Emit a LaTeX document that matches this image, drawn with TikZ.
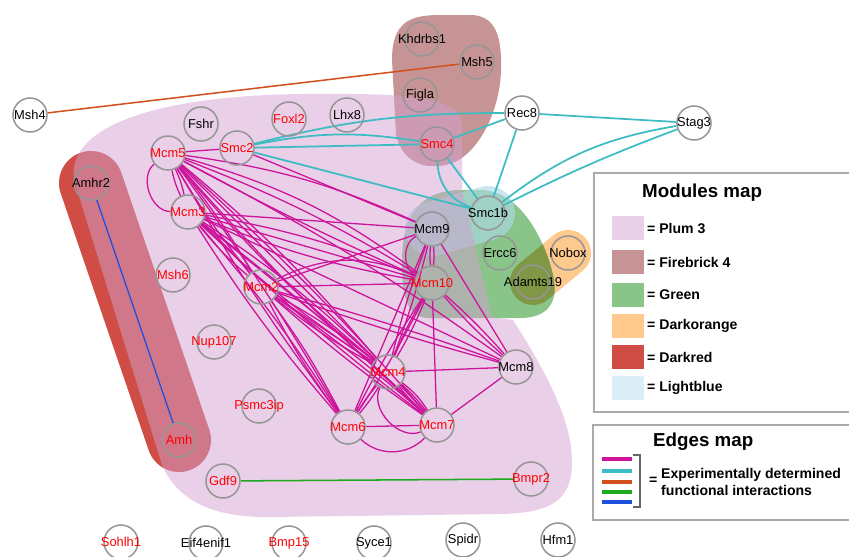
\documentclass[tikz,border=0pt]{standalone}
\usepackage{fontspec}
\setmainfont{Liberation Sans}
\pgfdeclarelayer{hull}
\pgfdeclarelayer{edges}
\pgfsetlayers{hull,edges,main}
\definecolor{plumc}{RGB}{211,161,209}
\definecolor{fbc}{RGB}{198,148,148}
\definecolor{grc}{RGB}{137,197,137}
\definecolor{orc}{RGB}{253,201,141}
\definecolor{olc}{RGB}{128,152,70}
\definecolor{drc}{RGB}{207,77,68}
\definecolor{lbc}{RGB}{173,216,230}
\definecolor{mgc}{RGB}{205,20,155}
\definecolor{cyc}{RGB}{62,188,196}
\definecolor{orl}{RGB}{210,80,30}
\definecolor{grl}{RGB}{30,170,30}
\definecolor{bll}{RGB}{30,80,220}
\definecolor{ringc}{RGB}{150,150,150}
\definecolor{boxc}{RGB}{170,170,170}
\definecolor{sw1}{RGB}{232,208,232}
\definecolor{sw6}{RGB}{220,238,245}
\newcommand\ndfont{\fontsize{11}{13}\selectfont}
\newcommand\gn[4]{\node[nd,label={[text=#4,font=\ndfont,inner sep=0pt]center:#3}] (#1) at (#2) {};}
\tikzset{
  nd/.style={circle,draw=ringc,line width=1.3pt,minimum size=1.02cm,inner sep=0pt},
  mg/.style={draw=mgc,line width=1.1pt},
  cy/.style={draw=cyc,line width=1.5pt},
  swatch/.style={minimum width=0.96cm,minimum height=0.72cm,inner sep=0pt},
  legtxt/.style={anchor=west,font=\bfseries\fontsize{12}{14.5}\selectfont,inner sep=0pt},
  legtitle/.style={anchor=west,font=\bfseries\fontsize{16}{19}\selectfont,inner sep=0pt}
}
\def\plumpath{(74,180) .. controls (66,125) and (160,96) .. (300,94) .. controls (400,93) and (462,95) .. (462,125) -- (462,190) -- (492,317) -- (513,320) .. controls (545,370) and (572,420) .. (572,462) .. controls (572,500) and (552,513) .. (500,514) -- (270,517) .. controls (205,518) and (175,495) .. (162,465) -- cycle}
\def\fbpath{(392,60) .. controls (392,22) and (410,15) .. (440,15) -- (470,15) .. controls (495,15) and (502,35) .. (501,70) .. controls (500,110) and (480,150) .. (455,162) .. controls (430,172) and (403,165) .. (396,135) -- cycle}
\def\grpath{(402,262) .. controls (402,215) and (420,190) .. (462,190) -- (480,190) .. controls (520,190) and (545,240) .. (553,275) .. controls (560,305) and (545,318) .. (520,318) -- (430,318) .. controls (408,318) and (402,300) .. (402,262) -- cycle}
\begin{document}
\begin{tikzpicture}[x=0.03cm,y=-0.03cm]
\useasboundingbox (0,0) rectangle (849,556);
\clip (0,0) rectangle (849,556);
% nodes
\gn{msh4}{30,115}{Msh4}{black}
\gn{khdrbs1}{422,39}{Khdrbs1}{black}
\gn{msh5}{477,62}{Msh5}{black}
\gn{figla}{420,95}{Figla}{black}
\gn{rec8}{522,113}{Rec8}{black}
\gn{stag3}{694,123}{Stag3}{black}
\gn{smc4}{437,144}{Smc4}{red}
\gn{smc1b}{488,213}{Smc1b}{black}
\gn{mcm9}{432,229}{Mcm9}{black}
\gn{ercc6}{500,253}{Ercc6}{black}
\gn{nobox}{568,253}{Nobox}{black}
\gn{adamts19}{533,282}{Adamts19}{black}
\gn{mcm10}{432,283}{Mcm10}{red}
\gn{mcm8}{516,367}{Mcm8}{black}
\gn{mcm4}{388,372}{Mcm4}{red}
\gn{mcm7}{437,425}{Mcm7}{red}
\gn{mcm6}{348,427}{Mcm6}{red}
\gn{psmc3ip}{259,406}{Psmc3ip}{red}
\gn{mcm2}{261,287}{Mcm2}{red}
\gn{nup107}{214,342}{Nup107}{red}
\gn{amh}{179,440}{Amh}{red}
\gn{gdf9}{223,481}{Gdf9}{red}
\gn{bmpr2}{531,479}{Bmpr2}{red}
\gn{sohlh1}{121,542}{Sohlh1}{red}
\gn{eif4enif1}{206,543}{Eif4enif1}{black}
\gn{bmp15}{289,543}{Bmp15}{red}
\gn{syce1}{374,543}{Syce1}{black}
\gn{spidr}{463,540}{Spidr}{black}
\gn{hfm1}{558,540}{Hfm1}{black}
\gn{msh6}{173,275}{Msh6}{red}
\gn{mcm3}{188,212}{Mcm3}{red}
\gn{mcm5}{168,153}{Mcm5}{red}
\gn{fshr}{201,124}{Fshr}{black}
\gn{smc2}{237,148}{Smc2}{red}
\gn{foxl2}{289,119}{Foxl2}{red}
\gn{lhx8}{347,115}{Lhx8}{black}
\gn{amhr2}{91,183}{Amhr2}{black}
% hulls
\begin{pgfonlayer}{hull}
\draw[drc,line width=1.92cm,line cap=round] (amhr2.center) -- (amh.center);
\fill[fbc] \fbpath;
\draw[orc,line width=1.38cm,line cap=round] (adamts19.center) -- (nobox.center);
\fill[grc] \grpath;
\begin{scope}
\clip \grpath;
\draw[olc,line width=1.38cm,line cap=round] (adamts19.center) -- (nobox.center);
\end{scope}
\draw[lbc,draw opacity=0.65,line width=1.62cm,line cap=round] (mcm9.center) -- (smc1b.center);
\fill[plumc,fill opacity=0.5] \plumpath;
\end{pgfonlayer}
% edges
\begin{pgfonlayer}{edges}
\foreach \a/\b/\bb in {mcm5/mcm3/-6, mcm5/mcm3/6, mcm5/mcm3/-70,
  mcm5/mcm2/4, mcm5/mcm2/-4, mcm5/mcm4/0, mcm5/mcm4/5, mcm5/mcm4/-5,
  mcm5/mcm6/3, mcm5/mcm6/-3, mcm5/mcm7/3, mcm5/mcm7/-3, mcm5/mcm8/4,
  mcm5/mcm9/8, mcm5/mcm10/10, mcm5/mcm10/5, mcm5/mcm10/-2,
  mcm5/smc2/0, smc2/mcm9/0,
  mcm3/mcm9/0, mcm3/mcm10/0, mcm3/mcm10/6, mcm3/mcm10/-6,
  mcm3/mcm2/5, mcm3/mcm2/-5, mcm3/mcm4/0, mcm3/mcm4/5, mcm3/mcm4/-5,
  mcm3/mcm6/4, mcm3/mcm6/-4, mcm3/mcm7/3, mcm3/mcm7/-3, mcm3/mcm8/0,
  mcm2/mcm10/0, mcm2/mcm10/25, mcm2/mcm9/0,
  mcm2/mcm4/0, mcm2/mcm4/5, mcm2/mcm4/-5, mcm2/mcm6/4, mcm2/mcm6/-4,
  mcm2/mcm7/3, mcm2/mcm7/-3, mcm2/mcm8/2, mcm2/mcm8/-2,
  mcm4/mcm10/4, mcm4/mcm10/-4, mcm4/mcm9/3, mcm4/mcm9/-3,
  mcm4/mcm6/4, mcm4/mcm6/-4, mcm4/mcm7/0, mcm4/mcm7/5, mcm4/mcm7/-5,
  mcm4/mcm7/10, mcm4/mcm7/-70, mcm4/mcm8/0,
  mcm6/mcm7/0, mcm6/mcm7/-45, mcm6/mcm10/3, mcm6/mcm10/-3, mcm6/mcm9/0,
  mcm7/mcm10/0, mcm7/mcm8/0, mcm8/mcm9/0, mcm8/mcm10/3, mcm8/mcm10/-3,
  mcm9/mcm10/5, mcm9/mcm10/-5, mcm9/mcm10/-65}
  \draw[mg] (\a) to[bend left=\bb] (\b);
\draw[cy] (smc2) to[bend left=7] (rec8);
\draw[cy] (smc2) -- (smc4);
\draw[cy] (smc2) to[bend left=10] (smc4);
\draw[cy] (smc2) -- (smc1b);
\draw[cy] (smc4) -- (rec8);
\draw[cy] (smc4) -- (smc1b);
\draw[cy] (smc4) to[bend right=35] (smc1b);
\draw[cy] (rec8) -- (smc1b);
\draw[cy] (rec8) -- (stag3);
\draw[cy] (stag3) to[bend right=3] (smc1b);
\draw[cy] (stag3) to[bend right=14] (smc1b);
\draw[orl,line width=1.3pt] (msh4) -- (msh5);
\draw[grl,line width=1.3pt] (gdf9) -- (bmpr2);
\draw[bll,line width=1.1pt] (amhr2) -- (amh);
\end{pgfonlayer}
% legend: modules
\draw[boxc,line width=1.6pt] (594,173) rectangle (870,412);
\node[legtitle] (mtitle) at (642,193) {Modules map};
\foreach \c/\t/\y [count=\i] in {sw1/Plum 3/228, fbc/Firebrick 4/262, grc/Green/295, orc/Darkorange/326, drc/Darkred/357, sw6/Lightblue/388}{
  \node[swatch,fill=\c] (sw\i) at (628,\y) {};
  \node[legtxt] (swl\i) at (647,\y) {= \t};
}
% legend: edges
\draw[boxc,line width=1.6pt] (593,425) rectangle (870,520);
\node[legtitle] (etitle) at (653,442) {Edges map};
\foreach \c/\y in {mgc/459, cyc/471, orl/482, grl/492, bll/502}
  \draw[\c,line width=3pt] (602,\y) -- (632,\y);
\draw[black!60,line width=1.2pt] (633,455) -- (640,455) -- (640,507) -- (633,507);
\node[legtxt] (eq) at (649,481) {=};
\node[legtxt,align=left] (etxt) at (661,482) {Experimentally determined\\functional interactions};
\end{tikzpicture}
\end{document}
